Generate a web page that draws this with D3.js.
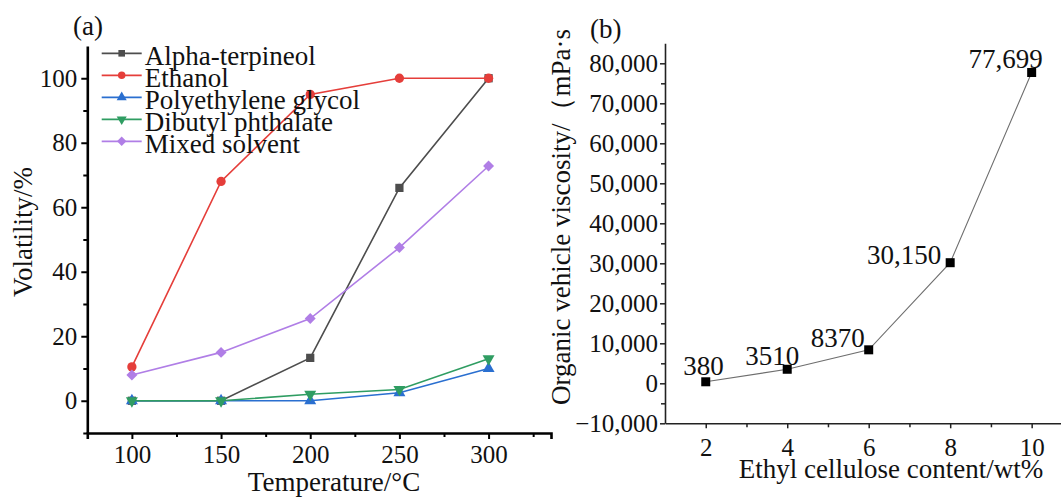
<!DOCTYPE html>
<html><head><meta charset="utf-8">
<script src="https://cdn.jsdelivr.net/npm/d3@7"></script>
<style>
body{margin:0;background:#fff}
svg text{font-family:"Liberation Serif","Times New Roman",serif;fill:#111}
</style></head><body>
<svg id="chart" width="1061" height="497"></svg>
<script>
// ---- Panel (a): solvent volatility vs temperature ----
const temperatures = [100, 150, 200, 250, 300];
const solventNames = ["Alpha-terpineol", "Ethanol", "Polyethylene glycol", "Dibutyl phthalate", "Mixed solvent"];
const alphaTerpineol = [0, 0, 13.3, 66, 100];
const ethanol = [10.5, 68, 95, 100, 100];
const polyethyleneGlycol = [0, 0, 0, 2.5, 10];
const dibutylPhthalate = [0, 0, 2, 3.5, 13];
const mixedSolvent = [8, 15, 25.5, 47.5, 72.8];
const temperatureTicks = [100, 150, 200, 250, 300];
const volatilityTicks = [0, 20, 40, 60, 80, 100];

// ---- Panel (b): vehicle viscosity vs ethyl cellulose content ----
const celluloseContent = [2, 4, 6, 8, 10];
const viscosity = [380, 3510, 8370, 30150, 77699];
const viscosityLabels = ["380", "3510", "8370", "30,150", "77,699"];
const contentTicks = [2, 4, 6, 8, 10];
const viscosityTicks = [-10000, 0, 10000, 20000, 30000, 40000, 50000, 60000, 70000, 80000];

const svg = d3.select("#chart");
const FONT = 25;

// ================= Panel (a) =================
const seriesA = [alphaTerpineol, ethanol, polyethyleneGlycol, dibutylPhthalate, mixedSolvent];
const colorsA = ["#4d4d4d", "#e53e3a", "#2a6fd0", "#2f9d62", "#b07ee6"];
const symbolsA = [
  {type: d3.symbolSquare, rot: 0, size: 68},
  {type: d3.symbolCircle, rot: 0, size: 68},
  {type: d3.symbolTriangle, rot: 0, size: 62},
  {type: d3.symbolTriangle, rot: 180, size: 62},
  {type: d3.symbolSquare, rot: 45, size: 60}
];

const xa = d3.scaleLinear().domain([75, 335]).range([87.3, 551]);
const ya = d3.scaleLinear().domain([-10, 110]).range([433, 46]);

const ga = svg.append("g");

// minor ticks
ga.append("g").attr("transform", `translate(0,${ya.range()[0]})`)
  .call(d3.axisBottom(xa).tickValues(d3.range(125, 335, 50)).tickSize(4).tickFormat("").tickSizeOuter(0))
  .call(g => g.select(".domain").remove())
  .call(g => g.selectAll("line").attr("stroke", "#000").attr("stroke-width", 2));
ga.append("g").attr("transform", `translate(${xa.range()[0]},0)`)
  .call(d3.axisLeft(ya).tickValues(d3.range(-10, 110, 20)).tickSize(4).tickFormat("").tickSizeOuter(0))
  .call(g => g.select(".domain").remove())
  .call(g => g.selectAll("line").attr("stroke", "#000").attr("stroke-width", 2));

// major axes
ga.append("g").attr("transform", `translate(0,${ya.range()[0]})`)
  .call(d3.axisBottom(xa).tickValues(temperatureTicks).tickSize(6).tickPadding(6).tickSizeOuter(6))
  .call(g => g.select(".domain").attr("stroke", "#000").attr("stroke-width", 2.6))
  .call(g => g.selectAll("line").attr("stroke", "#000").attr("stroke-width", 2))
  .call(g => g.selectAll("text").attr("font-size", FONT).attr("fill", "#111"));
ga.append("g").attr("transform", `translate(${xa.range()[0]},0)`)
  .call(d3.axisLeft(ya).tickValues(volatilityTicks).tickSize(6).tickPadding(4).tickSizeOuter(0))
  .call(g => g.select(".domain").attr("stroke", "#000").attr("stroke-width", 2.6))
  .call(g => g.selectAll("line").attr("stroke", "#000").attr("stroke-width", 2))
  .call(g => g.selectAll("text").attr("font-size", FONT).attr("fill", "#111"));

// series lines and markers
const lineA = d3.line().x((d, i) => xa(temperatures[i])).y(d => ya(d));
seriesA.forEach((vals, s) => {
  ga.append("path").datum(vals)
    .attr("d", lineA).attr("fill", "none")
    .attr("stroke", colorsA[s]).attr("stroke-width", 1.6);
});
seriesA.forEach((vals, s) => {
  const sym = d3.symbol().type(symbolsA[s].type).size(symbolsA[s].size);
  ga.append("g").selectAll("path").data(vals).join("path")
    .attr("d", sym)
    .attr("transform", (d, i) => `translate(${xa(temperatures[i])},${ya(d)}) rotate(${symbolsA[s].rot})`)
    .attr("fill", colorsA[s]);
});

// legend
const legend = ga.append("g").attr("transform", "translate(101.7,53.3)");
solventNames.forEach((name, s) => {
  const row = legend.append("g").attr("transform", `translate(0,${s * 22})`);
  row.append("line").attr("x1", 0).attr("x2", 40).attr("y1", 0).attr("y2", 0)
    .attr("stroke", colorsA[s]).attr("stroke-width", 1.8);
  row.append("path").attr("d", d3.symbol().type(symbolsA[s].type).size(44)())
    .attr("transform", `translate(20,0) rotate(${symbolsA[s].rot})`)
    .attr("fill", colorsA[s]);
  row.append("text").attr("x", 43).attr("y", 12).attr("font-size", 27).text(name);
});

// titles
ga.append("text").attr("x", 334).attr("y", 491).attr("text-anchor", "middle")
  .attr("font-size", 27).text("Temperature/°C");
ga.append("text").attr("transform", "translate(32,232) rotate(-90)").attr("text-anchor", "middle")
  .attr("font-size", 27).text("Volatility/%");
ga.append("text").attr("x", 73).attr("y", 35).attr("font-size", 27).text("(a)");

// ================= Panel (b) =================
const xb = d3.scaleLinear().domain([1, 10.72]).range([665, 1061]);
const yb = d3.scaleLinear().domain([-10000, 85000]).range([423.3, 43.3]);
const gb = svg.append("g");

gb.append("g").attr("transform", `translate(0,${yb.range()[0]})`)
  .call(d3.axisBottom(xb).tickValues([3, 5, 7, 9]).tickSize(4).tickFormat("").tickSizeOuter(0))
  .call(g => g.select(".domain").remove())
  .call(g => g.selectAll("line").attr("stroke", "#222").attr("stroke-width", 1.5));
gb.append("g").attr("transform", `translate(${xb.range()[0]},0)`)
  .call(d3.axisLeft(yb).tickValues(d3.range(-5000, 85000, 10000)).tickSize(4).tickFormat("").tickSizeOuter(0))
  .call(g => g.select(".domain").remove())
  .call(g => g.selectAll("line").attr("stroke", "#222").attr("stroke-width", 1.5));

gb.append("g").attr("transform", `translate(0,${yb.range()[0]})`)
  .call(d3.axisBottom(xb).tickValues(contentTicks).tickSize(5).tickPadding(10).tickSizeOuter(0))
  .call(g => g.select(".domain").attr("stroke", "#222").attr("stroke-width", 1.6))
  .call(g => g.selectAll("line").attr("stroke", "#222").attr("stroke-width", 1.5))
  .call(g => g.selectAll("text").attr("font-size", FONT).attr("fill", "#111"));
gb.append("g").attr("transform", `translate(${xb.range()[0]},0)`)
  .call(d3.axisLeft(yb).tickValues(viscosityTicks).tickSize(5).tickPadding(2).tickSizeOuter(0)
    .tickFormat(d3.format(",")))
  .call(g => g.select(".domain").attr("stroke", "#222").attr("stroke-width", 1.6))
  .call(g => g.selectAll("line").attr("stroke", "#222").attr("stroke-width", 1.5))
  .call(g => g.selectAll("text").attr("font-size", FONT).attr("fill", "#111"));

const lineB = d3.line()
  .x((d, i) => xb(celluloseContent[i])).y(d => yb(d));
gb.append("path").datum(viscosity).attr("d", lineB)
  .attr("fill", "none").attr("stroke", "#6e6e6e").attr("stroke-width", 1.1);
gb.append("g").selectAll("rect").data(viscosity).join("rect")
  .attr("x", (d, i) => xb(celluloseContent[i]) - 4.5)
  .attr("y", d => yb(d) - 4.5)
  .attr("width", 9).attr("height", 9).attr("fill", "#000");

// value labels beside each point
const labelOffsets = [[18, -7], [12, -4], [-4, -3], [-9, 1], [11, -5]];
gb.append("g").selectAll("text").data(viscosity).join("text")
  .attr("x", (d, i) => xb(celluloseContent[i]) + labelOffsets[i][0])
  .attr("y", (d, i) => yb(d) + labelOffsets[i][1])
  .attr("text-anchor", "end").attr("font-size", 27)
  .text((d, i) => viscosityLabels[i]);

gb.append("text").attr("x", 891).attr("y", 478).attr("text-anchor", "middle")
  .attr("font-size", 27).text("Ethyl cellulose content/wt%");
gb.append("text").attr("transform", "translate(570,217) rotate(-90)").attr("text-anchor", "middle")
  .attr("font-size", 27).text("Organic vehicle viscosity/（mPa·s");
gb.append("text").attr("x", 590).attr("y", 38).attr("font-size", 27).text("(b)");
</script>
</body></html>
